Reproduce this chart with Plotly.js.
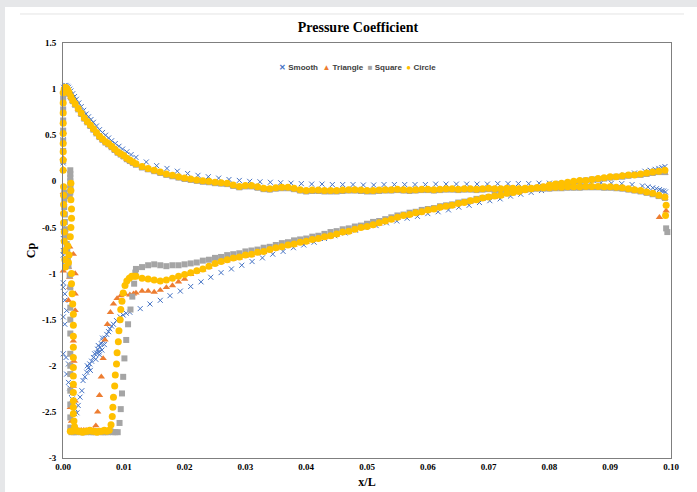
<!DOCTYPE html>
<html><head><meta charset="utf-8">
<script src="https://cdn.plot.ly/plotly-3.0.1.min.js"></script>
<style>
html,body{margin:0;padding:0;background:#e6e7e9;width:697px;height:492px;overflow:hidden;}
#chart{position:absolute;left:5px;top:7px;width:692px;height:485px;background:#fff;}
</style></head><body><div id="chart"></div><script>
// ---------- data ----------
const seriesNames = ['Smooth', 'Triangle', 'Square', 'Circle'];

// upper surface x (shared by Triangle, Square, Circle)
const xUp = [0.0002,0.0004,0.0006,0.0008,0.0010,0.0013,0.0016,0.0020,0.0025,0.0030,0.0035,0.0040,0.0045,0.0050,0.0055,0.0060,0.0065,0.0070,0.0075,0.0080,0.0085,0.0090,0.0095,0.0100,0.0105,0.0110,0.0115,0.0120,
0.013,0.014,0.015,0.016,0.017,0.018,0.019,0.020,0.021,0.022,0.023,0.024,0.025,0.026,0.027,0.028,0.029,0.030,0.031,0.032,0.033,0.034,0.035,0.036,0.037,0.038,0.039,0.040,0.041,0.042,0.043,0.044,0.045,0.046,0.047,0.048,0.049,0.050,0.051,0.052,0.053,0.054,0.055,0.056,0.057,0.058,0.059,0.060,0.061,0.062,0.063,0.064,0.065,0.066,0.067,0.068,0.069,0.070,0.071,0.072,0.073,0.074,0.075,0.076,0.077,0.078,0.079,0.080,0.081,0.082,0.083,0.084,0.085,0.086,0.087,0.088,0.089,0.090,0.091,0.092,0.093,0.094,0.095,0.096,0.097,0.098,0.099];

// lower surface x (shared by Triangle, Square, Circle)
const xLow = [0.012,0.013,0.014,0.015,0.016,0.017,0.018,0.019,0.020,0.021,0.022,0.023,0.024,0.025,0.026,0.027,0.028,0.029,0.030,0.031,0.032,0.033,0.034,0.035,0.036,0.037,0.038,0.039,0.040,0.041,0.042,0.043,0.044,0.045,0.046,0.047,0.048,0.049,0.050,0.051,0.052,0.053,0.054,0.055,0.056,0.057,0.058,0.059,0.060,0.061,0.062,0.063,0.064,0.065,0.066,0.067,0.068,0.069,0.070,0.071,0.072,0.073,0.074,0.075,0.076,0.077,0.078,0.079,0.080,0.081,0.082,0.083,0.084,0.085,0.086,0.087,0.088,0.089,0.090,0.091,0.092,0.093,0.094,0.095,0.096,0.097,0.098,0.099];

// ----- Circle -----
const circleUp = [1.00,1.02,1.01,0.99,0.96,0.92,0.88,0.84,0.79,0.74,0.69,0.65,0.61,0.57,0.53,0.49,0.46,0.43,0.41,0.38,0.35,0.32,0.30,0.28,0.25,0.23,0.21,0.19,
0.16,0.14,0.12,0.10,0.08,0.065,0.05,0.035,0.025,0.015,
0.005,0.00,-0.01,-0.015,-0.02,-0.04,-0.055,-0.045,-0.045,-0.06,
-0.075,-0.08,-0.07,-0.065,-0.065,-0.075,-0.09,-0.10,-0.095,-0.095,
-0.10,-0.10,-0.10,-0.095,-0.09,-0.09,-0.095,-0.10,-0.10,-0.095,
-0.09,-0.09,-0.085,-0.09,-0.095,-0.09,-0.085,-0.085,-0.09,-0.085,
-0.08,-0.08,-0.085,-0.08,-0.08,-0.085,-0.08,-0.075,-0.08,-0.08,
-0.075,-0.075,-0.08,-0.075,-0.075,-0.07,-0.07,-0.07,-0.065,-0.065,
-0.06,-0.06,-0.06,-0.055,-0.055,-0.055,-0.06,-0.06,-0.065,-0.07,
-0.08,-0.09,-0.10,-0.115,-0.13,-0.15,-0.17];
const circleLow = [-1.03,-1.05,-1.06,-1.07,-1.08,-1.07,-1.05,-1.03,-1.01,-0.99,
-0.97,-0.95,-0.92,-0.89,-0.87,-0.85,-0.83,-0.82,-0.80,-0.79,
-0.77,-0.76,-0.74,-0.72,-0.71,-0.69,-0.68,-0.66,-0.65,-0.63,
-0.62,-0.60,-0.59,-0.57,-0.55,-0.54,-0.52,-0.50,-0.49,-0.47,
-0.45,-0.43,-0.41,-0.39,-0.37,-0.36,-0.34,-0.33,-0.31,-0.30,
-0.28,-0.27,-0.26,-0.24,-0.23,-0.21,-0.20,-0.18,-0.17,-0.16,
-0.15,-0.13,-0.12,-0.11,-0.09,-0.08,-0.07,-0.06,-0.04,-0.03,
-0.02,-0.01,0.00,0.01,0.01,0.02,0.03,0.04,0.05,0.05,
0.06,0.07,0.07,0.08,0.09,0.10,0.11,0.12];
const circleNoseX = [0.00003,0.00003,0.00003,0.00003,0.00003,0.00003,0.00003,0.00003,0.00003,
0.0001,0.0001,0.0001,0.0001,0.0001,0.0002,0.0002,0.0003,0.0003,0.0004,
0.0013,0.0013,0.0013,0.0014,0.0014,0.0013,0.0012,0.0008,0.0010,0.0009,
0.0014,0.0014,0.0015,0.0016,0.0017,0.0017,0.0017,0.0017,0.0017,0.0017,0.0017,0.0017,0.0017,0.0017,0.0017,0.0017,0.0018,0.0019,
0.0012,0.0016,0.0020,0.0024,0.0028,0.0032,0.0036,0.0040,0.0044,0.0048,0.0052,0.0056,0.0060,0.0064,0.0068,0.0072,0.0076,
0.0079,0.0081,0.0082,0.0083,0.0085,0.0086,0.0088,0.0089,0.0091,0.0092,0.0094,0.0095,0.0097,0.0099,0.0102,0.0105,0.0109,0.0113,0.0117];
const circleNoseY = [0.96,0.85,0.74,0.63,0.52,0.41,0.32,0.23,0.12,
-0.06,-0.15,-0.25,-0.35,-0.45,-0.55,-0.65,-0.75,-0.85,-0.93,
-0.02,-0.10,-0.20,-0.30,-0.40,-0.50,-0.60,-0.70,-0.80,-0.88,
-1.00,-1.11,-1.22,-1.33,-1.44,-1.56,-1.68,-1.80,-1.91,-2.02,-2.11,-2.20,-2.29,-2.38,-2.45,-2.52,-2.60,-2.66,
-2.71,-2.71,-2.70,-2.71,-2.71,-2.72,-2.71,-2.71,-2.70,-2.71,-2.71,-2.72,-2.71,-2.71,-2.70,-2.71,-2.70,
-2.64,-2.55,-2.45,-2.34,-2.22,-2.10,-1.98,-1.86,-1.74,-1.62,-1.50,-1.39,-1.30,-1.21,-1.13,-1.08,-1.05,-1.03,-1.03];
const circleTailX = [0.0992,0.0991];
const circleTailY = [-0.26,-0.37];

// ----- Square -----
const squareUp = [0.99,1.01,1.00,0.98,0.95,0.91,0.87,0.83,0.78,0.73,0.68,0.64,0.60,0.56,0.52,0.48,0.45,0.42,0.40,0.37,0.34,0.31,0.29,0.27,0.24,0.22,0.20,0.18,
0.15,0.13,0.11,0.09,0.07,0.055,0.04,0.025,0.015,0.005,
-0.005,-0.01,-0.02,-0.025,-0.03,-0.05,-0.065,-0.055,-0.055,-0.07,
-0.085,-0.09,-0.08,-0.075,-0.075,-0.085,-0.10,-0.11,-0.105,-0.105,
-0.11,-0.11,-0.11,-0.105,-0.10,-0.10,-0.105,-0.11,-0.11,-0.105,
-0.10,-0.10,-0.095,-0.10,-0.105,-0.10,-0.095,-0.095,-0.10,-0.095,
-0.09,-0.09,-0.095,-0.09,-0.09,-0.095,-0.09,-0.085,-0.09,-0.09,
-0.085,-0.085,-0.09,-0.085,-0.085,-0.08,-0.08,-0.08,-0.075,-0.075,
-0.07,-0.07,-0.07,-0.065,-0.065,-0.065,-0.07,-0.07,-0.075,-0.08,
-0.09,-0.10,-0.11,-0.125,-0.14,-0.16,-0.18];
const squareLow = [-0.95,-0.93,-0.91,-0.90,-0.91,-0.92,-0.91,-0.91,-0.90,-0.89,
-0.88,-0.86,-0.85,-0.83,-0.82,-0.80,-0.79,-0.78,-0.76,-0.75,
-0.74,-0.72,-0.71,-0.69,-0.67,-0.66,-0.64,-0.63,-0.62,-0.60,
-0.59,-0.57,-0.55,-0.54,-0.52,-0.51,-0.49,-0.48,-0.46,-0.44,
-0.43,-0.41,-0.39,-0.37,-0.36,-0.34,-0.33,-0.31,-0.30,-0.29,
-0.27,-0.26,-0.25,-0.23,-0.22,-0.21,-0.19,-0.18,-0.17,-0.15,
-0.14,-0.13,-0.12,-0.10,-0.09,-0.08,-0.07,-0.06,-0.05,-0.04,
-0.03,-0.02,-0.01,0.00,0.01,0.02,0.02,0.03,0.04,0.05,
0.05,0.06,0.07,0.07,0.08,0.09,0.10,0.10];
const squareNoseX = [0.00003,0.00003,0.00003,0.00003,0.00003,0.00003,0.00003,
0.0012,0.0012,0.0012,0.0012,0.0012,0.0012,0.0012,0.0011,
0.0002,0.0002,0.0002,0.0003,0.0003,0.0004,0.0005,0.0006,0.0007,0.0008,0.0009,
0.0011,0.0012,0.0012,0.0012,0.0012,0.0012,0.0012,0.0012,0.0012,0.0012,0.0012,0.0012,
0.0014,0.0018,0.0022,0.0026,0.0030,0.0034,0.0038,0.0042,0.0046,0.0050,0.0054,0.0058,0.0062,0.0066,0.0070,0.0074,0.0078,0.0082,0.0086,0.0090,
0.0093,0.0095,0.0097,0.0099,0.0101,0.0104,0.0107,0.0111,0.0114,0.0117,0.0119];
const squareNoseY = [0.90,0.78,0.66,0.55,0.44,0.33,0.22,
0.12,0.08,0.04,0.00,-0.04,-0.08,-0.12,-0.16,
-0.12,-0.20,-0.28,-0.36,-0.44,-0.52,-0.60,-0.68,-0.76,-0.84,-0.92,
-1.02,-1.15,-1.37,-1.50,-1.65,-1.87,-2.00,-2.09,-2.27,-2.42,-2.56,-2.67,
-2.72,-2.72,-2.72,-2.71,-2.72,-2.72,-2.72,-2.71,-2.72,-2.72,-2.72,-2.71,-2.72,-2.72,-2.72,-2.72,-2.71,-2.72,-2.72,-2.72,
-2.62,-2.47,-2.30,-2.12,-1.92,-1.72,-1.55,-1.39,-1.25,-1.11,-0.99];
const squareTailX = [0.0992,0.0994];
const squareTailY = [-0.51,-0.55];

// ----- Triangle -----
const triangleUp = [0.99,1.01,1.00,0.98,0.95,0.91,0.87,0.83,0.78,0.73,0.68,0.64,0.60,0.56,0.52,0.48,0.45,0.42,0.39,0.37,0.34,0.31,0.29,0.26,0.24,0.22,0.20,0.18,
0.15,0.12,0.11,0.09,0.07,0.05,0.04,0.02,0.01,0.00,
-0.01,-0.015,-0.025,-0.03,-0.035,-0.055,-0.07,-0.06,-0.06,-0.075,
-0.09,-0.095,-0.085,-0.08,-0.08,-0.09,-0.105,-0.115,-0.11,-0.11,
-0.115,-0.115,-0.115,-0.11,-0.105,-0.105,-0.11,-0.115,-0.115,-0.11,
-0.105,-0.105,-0.10,-0.105,-0.11,-0.105,-0.10,-0.10,-0.105,-0.10,
-0.095,-0.095,-0.10,-0.095,-0.095,-0.10,-0.095,-0.09,-0.095,-0.095,
-0.09,-0.09,-0.095,-0.09,-0.09,-0.085,-0.085,-0.085,-0.08,-0.08,
-0.075,-0.075,-0.075,-0.07,-0.07,-0.07,-0.075,-0.075,-0.08,-0.085,
-0.095,-0.105,-0.115,-0.13,-0.145,-0.165,-0.185];
const triangleLow = [-1.21,-1.19,-1.19,-1.20,-1.18,-1.15,-1.13,-1.09,-1.06,-1.01,
-0.98,-0.96,-0.93,-0.90,-0.88,-0.86,-0.84,-0.83,-0.81,-0.80,
-0.78,-0.77,-0.75,-0.73,-0.72,-0.70,-0.69,-0.67,-0.66,-0.64,
-0.63,-0.61,-0.60,-0.58,-0.56,-0.55,-0.53,-0.51,-0.50,-0.48,
-0.46,-0.44,-0.42,-0.40,-0.38,-0.37,-0.35,-0.34,-0.32,-0.31,
-0.29,-0.28,-0.27,-0.25,-0.24,-0.22,-0.21,-0.19,-0.18,-0.17,
-0.16,-0.14,-0.13,-0.12,-0.10,-0.09,-0.08,-0.07,-0.05,-0.04,
-0.03,-0.02,-0.01,0.00,0.00,0.01,0.02,0.03,0.04,0.04,
0.05,0.06,0.06,0.07,0.08,0.09,0.09,0.09];
const triangleNoseX = [0.00003,0.00003,0.00003,0.00005,0.0001,0.0003,0.0011,0.0017,0.0006,0.0009,0.00005,0.0011,0.0011,0.0020,0.0020,0.0009,0.0020,0.0017,0.0018,0.0017,0.0020,0.0012,0.0014,
0.0018,0.0022,0.0026,0.0030,0.0034,0.0038,0.0042,0.0046,0.0050,
0.0054,0.0057,0.0060,0.0063,0.0066,0.0069,0.0073,0.0078,0.0083,0.0089,0.0095,0.0102,0.0110,0.0116];
const triangleNoseY = [0.53,0.25,0.13,-0.12,-0.33,-0.55,-0.71,-0.79,-0.86,-0.93,-0.97,-1.04,-1.15,-1.00,-1.22,-1.29,-1.40,-1.73,-1.95,-2.22,-2.38,-2.45,-2.60,
-2.70,-2.70,-2.70,-2.70,-2.70,-2.70,-2.70,-2.70,-2.70,
-2.65,-2.50,-2.32,-2.12,-1.92,-1.72,-1.55,-1.42,-1.33,-1.27,-1.24,-1.22,-1.23,-1.22];
const triangleTailX = [0.0992,0.0981];
const triangleTailY = [-0.32,-0.39];

// ----- Smooth -----
const smoothUpX = [0.0001,0.0003,0.0005,0.0007,0.0009,0.0011,0.0013,0.0016,0.0019,0.0022,0.0026,0.0030,0.0034,0.0038,0.0042,0.0046,0.0050,0.0055,0.0060,0.0065,0.0070,0.0075,0.0080,0.0086,0.0092,0.0098,0.0105,0.0112,0.0120,
0.0137,0.0154,0.0171,0.0188,0.0205,0.0222,0.0239,0.0256,0.0273,0.0290,
0.0307,0.0324,0.0341,0.0358,0.0375,0.0392,0.0409,0.0426,0.0443,0.0460,
0.0477,0.0494,0.0511,0.0528,0.0545,0.0562,0.0579,0.0596,0.0613,0.0630,
0.0647,0.0664,0.0681,0.0698,0.0715,0.0732,0.0749,0.0766,0.0783,0.0800,
0.0817,0.0834,0.0851,0.0868,0.0885,0.0902,0.0919,0.0936,0.0953,0.0962,
0.0970,0.0976,0.0981,0.0985,0.0988,0.0991];
const smoothUp = [1.02,1.04,1.04,1.03,1.02,1.00,0.98,0.95,0.92,0.89,0.85,0.81,0.77,0.73,0.70,0.67,0.64,0.60,0.56,0.53,0.50,0.47,0.44,0.41,0.38,0.35,0.32,0.29,0.26,
0.21,0.17,0.14,0.11,0.085,0.065,0.05,0.035,0.02,0.01,
0.00,-0.005,-0.01,-0.015,-0.02,-0.025,-0.03,-0.03,-0.035,-0.035,
-0.035,-0.04,-0.04,-0.035,-0.035,-0.035,-0.035,-0.035,-0.03,-0.03,
-0.03,-0.03,-0.03,-0.03,-0.025,-0.025,-0.025,-0.025,-0.02,-0.02,
-0.02,-0.015,-0.015,-0.015,-0.015,-0.02,-0.025,-0.035,-0.05,-0.06,
-0.07,-0.08,-0.09,-0.10,-0.105,-0.115];
const smoothLowX = [0.0110,0.0127,0.0143,0.0160,0.0176,0.0193,0.0210,0.0227,0.0243,0.0260,
0.0277,0.0294,0.0311,0.0328,0.0345,0.0362,0.0379,0.0396,0.0413,0.0430,
0.0447,0.0464,0.0481,0.0498,0.0515,0.0532,0.0549,0.0566,0.0583,0.0600,
0.0617,0.0634,0.0651,0.0668,0.0685,0.0702,0.0719,0.0736,0.0753,0.0770,
0.0787,0.0804,0.0821,0.0838,0.0855,0.0872,0.0889,0.0906,0.0923,0.0940,
0.0957,0.0966,0.0974,0.0980,0.0985,0.0990];
const smoothLow = [-1.42,-1.38,-1.33,-1.29,-1.24,-1.19,-1.14,-1.09,-1.04,-0.99,
-0.95,-0.91,-0.87,-0.83,-0.79,-0.76,-0.72,-0.69,-0.66,-0.62,
-0.59,-0.56,-0.53,-0.50,-0.48,-0.45,-0.43,-0.40,-0.38,-0.35,
-0.33,-0.31,-0.28,-0.26,-0.23,-0.21,-0.19,-0.16,-0.14,-0.12,
-0.10,-0.07,-0.05,-0.03,-0.01,0.01,0.03,0.05,0.07,0.09,
0.11,0.12,0.13,0.14,0.15,0.16];
const smoothNoseX = [0.00003,0.00003,0.00005,0.00005,0.00005,0.00005,0.0003,0.00005,0.00005,0.0003,0.0003,0.00005,0.0003,0.0006,0.00005,0.0005,0.0009,0.0006,0.0009,0.0011,0.0014,0.0015,0.0017,0.0019,0.0020,0.0023,0.0025,0.0028,0.0031,0.0033,0.0036,0.0039,0.0040,0.0042,0.0044,0.0045,0.0047,0.0050,0.0052,0.0054,0.0055,0.0057,0.0058,0.0059,0.0060,0.0061,0.0063,0.0064,0.0065,0.0066,0.0068,0.0069,0.0072,0.0075,0.0077,0.0080,0.0083,0.0088,0.0094,0.0099,0.0104];
const smoothNoseY = [0.45,0.20,-0.50,-0.62,-0.75,-0.80,-0.88,-1.10,-1.15,-1.22,-1.29,-1.47,-1.55,-1.40,-1.87,-1.91,-1.98,-2.09,-2.18,-2.24,-2.30,-2.36,-2.42,-2.52,-2.47,-2.51,-2.43,-2.34,-2.27,-2.16,-2.12,-2.07,-2.00,-2.02,-1.98,-2.05,-1.95,-1.91,-1.87,-1.93,-1.86,-1.82,-1.78,-1.85,-1.88,-1.80,-1.76,-1.83,-1.70,-1.73,-1.77,-1.70,-1.66,-1.63,-1.60,-1.57,-1.55,-1.51,-1.47,-1.45,-1.43];

// axis ticks
const yTickVals = [1.5,1,0.5,0,-0.5,-1,-1.5,-2,-2.5,-3];
const yTickText = ['1.5','1','0.5','0','-0.5','-1','-1.5','-2','-2.5','-3'];
const seriesColors = ['#4472C4','#ED7D31','#A5A5A5','#FFC000'];

// ---------- chart ----------
const serif = 'Liberation Serif, Times New Roman, serif';
const traces = [
  {name: seriesNames[0], type:'scatter', mode:'markers', cliponaxis:false,
   x: [...smoothUpX, ...smoothLowX, ...smoothNoseX],
   y: [...smoothUp, ...smoothLow, ...smoothNoseY],
   marker:{symbol:'x-thin', size:5, color:seriesColors[0], line:{width:1, color:seriesColors[0]}}},
  {name: seriesNames[1], type:'scatter', mode:'markers', cliponaxis:false,
   x: [...xUp, ...xLow, ...triangleNoseX, ...triangleTailX],
   y: [...triangleUp, ...triangleLow, ...triangleNoseY, ...triangleTailY],
   marker:{symbol:'triangle-up', size:6.5, color:seriesColors[1]}},
  {name: seriesNames[2], type:'scatter', mode:'markers', cliponaxis:false,
   x: [...xUp, ...xLow, ...squareNoseX, ...squareTailX],
   y: [...squareUp, ...squareLow, ...squareNoseY, ...squareTailY],
   marker:{symbol:'square', size:6, color:seriesColors[2]}},
  {name: seriesNames[3], type:'scatter', mode:'markers', cliponaxis:false,
   x: [...xUp, ...xLow, ...circleNoseX, ...circleTailX],
   y: [...circleUp, ...circleLow, ...circleNoseY, ...circleTailY],
   marker:{symbol:'circle', size:7, color:seriesColors[3]}}
];

const legendGlyphs = ['✕','▲','■','●'];
const legendText = seriesNames.map((n,i) =>
  '<span style="color:' + seriesColors[i] + '">' + legendGlyphs[i] + '</span> ' + n).join('&nbsp;&nbsp;');

const layout = {
  width: 692, height: 485,
  paper_bgcolor:'#ffffff', plot_bgcolor:'#ffffff',
  margin:{l:58, r:26, t:36, b:34},
  showlegend:false,
  title:{text:'Pressure Coefficient', x:0.51, xref:'container', y:1-20/485, yref:'container', yanchor:'middle',
         font:{family:serif, size:14, color:'#000', weight:'bold'}},
  xaxis:{range:[0,0.1], tick0:0, dtick:0.01, tickformat:'.2f', showgrid:false, zeroline:false,
         showline:true, mirror:true, linecolor:'#7f7f7f', linewidth:1, ticks:'',
         tickfont:{family:serif, size:9, color:'#000', weight:'bold'},
         title:{text:'x/L', standoff:6, font:{family:serif, size:12, color:'#000', weight:'bold'}}},
  yaxis:{range:[-3,1.5], tickmode:'array', tickvals:yTickVals, ticktext:yTickText, showgrid:false, zeroline:false,
         showline:true, mirror:true, linecolor:'#7f7f7f', linewidth:1, ticks:'', ticklabelstandoff:4,
         tickfont:{family:serif, size:9, color:'#000', weight:'bold'},
         title:{text:'Cp', standoff:3, font:{family:serif, size:12, color:'#000', weight:'bold'}}},
  annotations:[{text:legendText, xref:'paper', yref:'paper', x:0.485, y:0.942, xanchor:'center', yanchor:'middle',
                showarrow:false, font:{family:'Liberation Sans, Arial, sans-serif', size:8, color:'#404040', weight:'bold'}}],
  shapes:[{type:'line', xref:'paper', yref:'paper', x0:-0.0707, x1:1.0214, y0:1.0699, y1:1.0699,
           line:{color:'#e4e4e4', width:1}}]
};
Plotly.newPlot('chart', traces, layout, {displayModeBar:false, staticPlot:true});
</script></body></html>
